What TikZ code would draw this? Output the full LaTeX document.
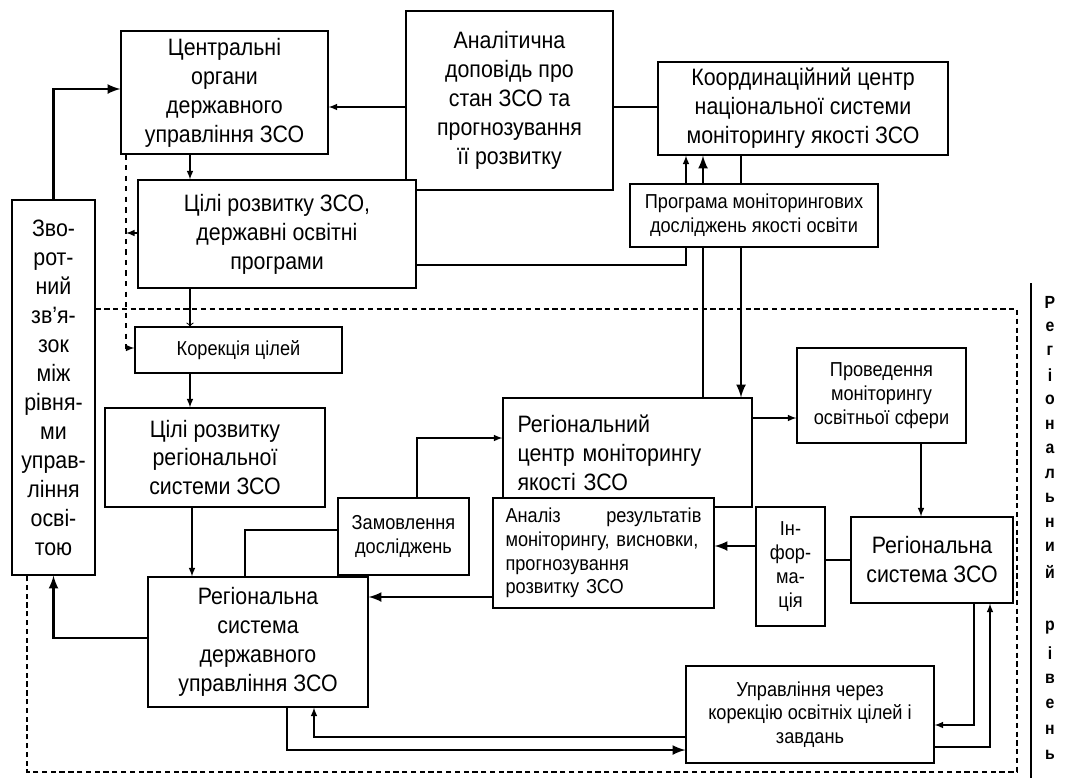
\documentclass[tikz,border=0pt]{standalone}
\usepackage{fontspec}
\setmainfont{Liberation Sans}[FakeStretch=0.9]
\usetikzlibrary{backgrounds}
\newcommand\pxunit{0.02}
\newcommand\bigtxt{\fontsize{13.5}{16.5}\selectfont}
\newcommand\midtxt{\fontsize{11.5}{13.5}\selectfont}
\newcommand\boxnode[7][]{
		\node (#2) at ({(#3+#5)/2},{(#4+#6)/2}) [box,#1,minimum width=(#5-#3)*\pxunit cm,minimum height=(#6-#4)*\pxunit cm] {#7};
	}

\begin{document}
\begin{tikzpicture}[x=\pxunit cm,y=-\pxunit cm,every path/.style={>=latex},
		box/.style={draw,fill=white,line width=0.6pt,inner sep=0pt,align=center,font=\bigtxt},
		midbox/.style={box,font=\midtxt},
		link/.style={->,line width=0.7pt},
		boldlink/.style={->,line width=1.5pt},
		regionline/.style={line width=0.7pt,dash pattern=on 3pt off 2pt}]
		\useasboundingbox (0,0) rectangle (1067,778);
	
		% draw national level boxes
		\boxnode{cent}{121}{31}{328}{154}{Центральні\\органи\\державного\\управління ЗСО}
		\boxnode{anal}{406}{11}{613}{190}{Аналітична\\доповідь про\\стан ЗСО та\\прогнозування\\її розвитку}
		\boxnode{coord}{658}{62}{948}{155}{Координаційний центр\\національної системи\\моніторингу якості ЗСО}
		\boxnode{goals}{138}{180}{416}{288}{Цілі розвитку ЗСО,\\державні освітні\\програми}
		\boxnode{fb}{12}{200}{95}{575}{Зво-\\рот-\\ний\\зв'я-\\зок\\між\\рівня-\\ми\\управ-\\ління\\осві-\\тою}
	
		% draw regional level boxes
		\boxnode[midbox]{korr}{135}{327}{342}{373}{Корекція цілей}
		\boxnode{rgoals}{105}{408}{325}{507}{Цілі розвитку\\регіональної\\системи ЗСО}
		\boxnode[midbox]{zam}{338}{498}{469}{575}{Замовлення\\досліджень}
		\boxnode[align=left,text width=4.4cm]{regc}{503}{398}{752}{507}{Регіональний\\центр моніторингу\\якості ЗСО}
		\boxnode[midbox,align=left,text width=3.92cm]{anal2}{493}{498}{714}{608}{Аналіз\hfill результатів\\моніторингу, висновки,\\прогнозування\\розвитку ЗСО}
		\boxnode[midbox]{inf}{756}{507}{825}{626}{Ін-\\фор-\\ма-\\ція}
		\boxnode[midbox]{prov}{797}{348}{966}{443}{Проведення\\моніторингу\\освітньої сфери}
		\boxnode{rsz}{851}{517}{1013}{603}{Регіональна\\система ЗСО}
		\boxnode{rsys}{148}{577}{368}{707}{Регіональна\\система\\державного\\управління ЗСО}
		\boxnode[midbox]{upr}{686}{666}{934}{763}{Управління через\\корекцію освітніх цілей і\\завдань}
	
		% draw lines behind the programme box
		\begin{scope}[on background layer]
			\draw[boldlink] (anal2.north -| 703,0) to (coord.south -| 703,0);
			\draw[boldlink] (coord.south -| 741,0) to (regc.north -| 741,0);
		\end{scope}
		\boxnode[midbox]{prog}{630}{184}{878}{247}{Програма моніторингових\\досліджень якості освіти}
	
		% draw national level links
		\draw[link] (anal.west |- 0,107) to (cent.east |- 0,107);
		\draw[line width=0.7pt] (coord.west |- 0,107) to (anal.east |- 0,107);
		\draw[link] (cent.south -| 190,0) to (goals.north -| 190,0);
		\draw[boldlink] (fb.north) |- (cent.west |- 0,89);
		\draw[line width=0.6pt] (goals.east |- 0,265) -| (prog.south -| 686,0);
		\draw[link] (prog.north -| 686,0) to (coord.south -| 686,0);
		\draw[link,dashed] (cent.south -| 126,0) |- (korr.west |- 0,348);
		\draw[link] (goals.west |- 0,233) to (126,233);
		\draw[->,>=to,line width=0.6pt] (goals.south -| 190,0) to (korr.north -| 190,0);
	
		% draw regional level links
		\draw[link] (korr.south -| 190,0) to (rgoals.north -| 190,0);
		\draw[link] (rgoals.south -| 192,0) to (rsys.north -| 192,0);
		\draw[link] (zam.north -| 417,0) |- (regc.west |- 0,438);
		\draw[line width=0.7pt] (zam.west |- 0,530) -| (rsys.north -| 245,0);
		\draw[link] (regc.east |- 0,418) to (prov.west |- 0,418);
		\draw[link] (prov.south -| 921,0) to (rsz.north -| 921,0);
		\draw[line width=0.7pt] (rsz.west |- 0,560) to (inf.east |- 0,560);
		\draw[boldlink] (inf.west |- 0,546) to (anal2.east |- 0,546);
		\draw[boldlink] (anal2.west |- 0,597) to (rsys.east |- 0,597);
		\draw[boldlink] (rsys.west |- 0,638) -| (fb.south);
		\draw[boldlink] (rsys.south -| 287,0) |- (upr.west |- 0,750);
		\draw[link] (upr.west |- 0,737) -| (rsys.south -| 314,0);
		\draw[link] (rsz.south -| 974,0) |- (upr.east |- 0,725);
		\draw[link] (upr.east |- 0,747) -| (rsz.south -| 990,0);
	
		% draw regional level frame
		\draw[regionline] (fb.east |- 0,309) -- (1017,309) -- (1017,772) -- (27,772) -- (fb.south -| 27,0);
		\draw[line width=0.6pt] (1031,283) -- (1031,778);
	
		% draw vertical level label
		\foreach \ch [count=\i] in {Р,е,г,і,о,н,а,л,ь,н,и,й}
		{
			\node (top\i) at (1050,{302 + (\i - 1) * 24.5}) [font=\bfseries\fontsize{10}{12}\selectfont] {\ch};
		}
		\foreach \ch [count=\i] in {р,і,в,е,н,ь}
		{
			\node (bot\i) at (1050,{628 + (\i - 1) * 25.4}) [font=\bfseries\fontsize{10}{12}\selectfont] {\ch};
		}
	\end{tikzpicture}
\end{document}
